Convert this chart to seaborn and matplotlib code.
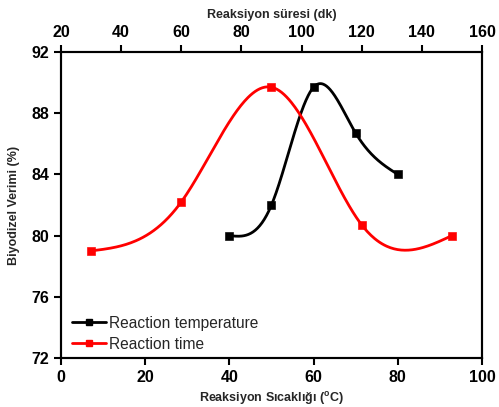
import numpy as np
import pandas as pd
import matplotlib
matplotlib.use("Agg")
import matplotlib.pyplot as plt
from matplotlib.lines import Line2D
import seaborn as sns

# Data
temp_x = [40, 50, 60, 70, 80]            # Reaksiyon Sıcaklığı (°C)
temp_y = [80.0, 82.0, 89.7, 86.7, 84.0]  # Biyodizel Verimi (%)
time_x = [30, 60, 90, 120, 150]          # Reaksiyon süresi (dk)
time_y = [79.0, 82.2, 89.7, 80.7, 80.0]
bottom_ticks = [0, 20, 40, 60, 80, 100]
top_ticks = [20, 40, 60, 80, 100, 120, 140, 160]
y_ticks = [72, 76, 80, 84, 88, 92]


def natural_spline(x, y, n=300):
    x = np.asarray(x, float); y = np.asarray(y, float)
    k = len(x); h = np.diff(x)
    A = np.zeros((k, k)); b = np.zeros(k)
    A[0, 0] = 1; A[-1, -1] = 1
    for i in range(1, k - 1):
        A[i, i - 1] = h[i - 1]; A[i, i] = 2 * (h[i - 1] + h[i]); A[i, i + 1] = h[i]
        b[i] = 3 * ((y[i + 1] - y[i]) / h[i] - (y[i] - y[i - 1]) / h[i - 1])
    c = np.linalg.solve(A, b)
    xs = np.linspace(x[0], x[-1], n)
    idx = np.clip(np.searchsorted(x, xs) - 1, 0, k - 2)
    dx = xs - x[idx]
    bb = (y[idx + 1] - y[idx]) / h[idx] - h[idx] * (2 * c[idx] + c[idx + 1]) / 3
    d = (c[idx + 1] - c[idx]) / (3 * h[idx])
    ys = y[idx] + bb * dx + c[idx] * dx ** 2 + d * dx ** 3
    return xs, ys


sns.set_style("white")
plt.rcParams['font.family'] = ['Liberation Sans', 'DejaVu Sans']

fig = plt.figure(figsize=(4.99, 4.07), dpi=100)
ax = fig.add_axes([0.1222, 0.1204, 0.8437, 0.7518])

sx, sy = natural_spline(temp_x, temp_y)
sns.lineplot(x=sx, y=sy, ax=ax, color='black', linewidth=2, legend=False)
sns.scatterplot(x=temp_x, y=temp_y, ax=ax, marker='s', color='black', s=30, edgecolor='black', zorder=5, legend=False)
ax.set_xlim(0, 100)
ax.set_ylim(72, 92)
ax.set_xticks(bottom_ticks)
ax.set_yticks(y_ticks)

ax2 = ax.twiny()
tx, ty = natural_spline(time_x, time_y)
sns.lineplot(x=tx, y=ty, ax=ax2, color='#ff0000', linewidth=2, legend=False)
sns.scatterplot(x=time_x, y=time_y, ax=ax2, marker='s', color='#ff0000', s=30, edgecolor='#ff0000', zorder=5, legend=False)
ax2.set_xlim(20, 160)
ax2.set_xticks(top_ticks)

for a in (ax, ax2):
    for s in a.spines.values():
        s.set_color('black'); s.set_linewidth(1.5)
    a.tick_params(direction='out', length=5, width=1.5, colors='black', labelsize=11.5)
    for lbl in a.get_xticklabels() + a.get_yticklabels():
        lbl.set_fontweight('bold')
ax.tick_params(axis='both', which='both', bottom=True, left=True, top=False, right=False)
ax2.tick_params(axis='x', top=True, bottom=False, labeltop=True, labelbottom=False)

ax.set_xlabel("Reaksiyon Sıcaklığı ($\\mathregular{^{o}}$C)", fontsize=9, fontweight='bold', labelpad=4)
ax.set_ylabel("Biyodizel Verimi (%)", fontsize=9, fontweight='bold', labelpad=8)
ax2.set_xlabel("Reaksiyon süresi (dk)", fontsize=9, fontweight='bold', labelpad=5)

handles = [Line2D([0], [0], color='black', lw=2, marker='s', markersize=5),
           Line2D([0], [0], color='#ff0000', lw=2, marker='s', markersize=5)]
ax.legend(handles, ["Reaction temperature", "Reaction time"], loc='lower left',
          bbox_to_anchor=(0.0, -0.015), frameon=False, fontsize=11.2, handlelength=2.2,
          handletextpad=0.2, labelspacing=0.38, borderaxespad=0.3)

fig.savefig("out.png", dpi=100)
